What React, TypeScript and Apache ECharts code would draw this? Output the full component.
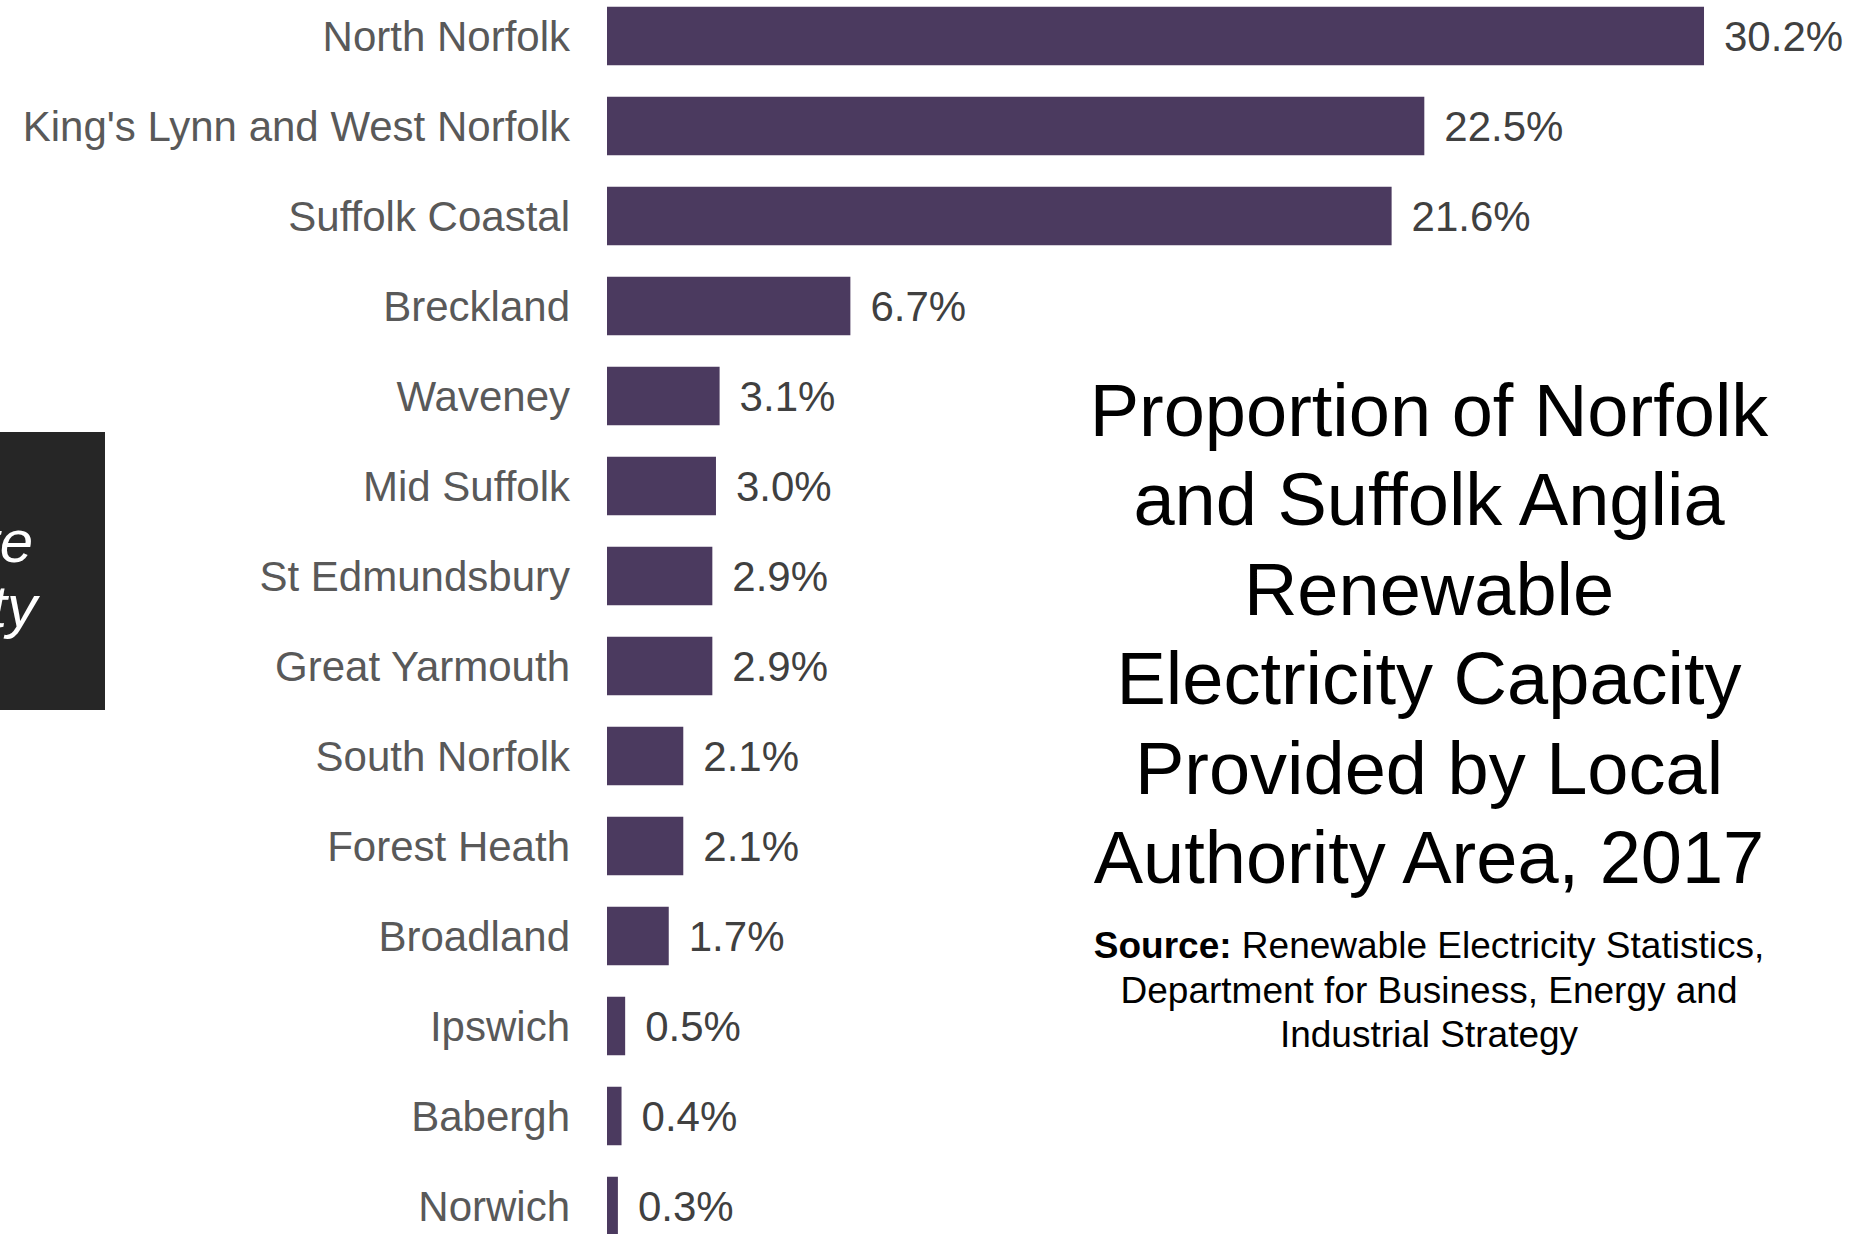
import React, { useEffect, useRef } from "react";
import * as echarts from "echarts";

const categories = [
  "North Norfolk",
  "King's Lynn and West Norfolk",
  "Suffolk Coastal",
  "Breckland",
  "Waveney",
  "Mid Suffolk",
  "St Edmundsbury",
  "Great Yarmouth",
  "South Norfolk",
  "Forest Heath",
  "Broadland",
  "Ipswich",
  "Babergh",
  "Norwich",
];
const values = [30.2, 22.5, 21.6, 6.7, 3.1, 3.0, 2.9, 2.9, 2.1, 2.1, 1.7, 0.5, 0.4, 0.3];

const titleLines = [
  "Proportion of Norfolk",
  "and Suffolk Anglia",
  "Renewable",
  "Electricity Capacity",
  "Provided by Local",
  "Authority Area, 2017",
];
const sourceLabel = "Source:";
const sourceLines = [
  " Renewable Electricity Statistics,",
  "Department for Business, Energy and",
  "Industrial Strategy",
];

const FONT = "'Liberation Sans', Arial, sans-serif";

export default function App() {
  const ref = useRef<HTMLDivElement>(null);
  useEffect(() => {
    document.body.style.margin = "0";
    document.body.style.overflow = "hidden";
    const chart = echarts.init(ref.current!, null, { renderer: "svg" });
    chart.setOption({
      animation: false,
      backgroundColor: "#ffffff",
      textStyle: { fontFamily: FONT },
      grid: {
        left: 607,
        top: -9,
        width: 1453,
        height: 1260,
        containLabel: false,
        outerBoundsMode: "none",
      },
      xAxis: {
        type: "value",
        min: 0,
        max: 40,
        show: false,
        splitLine: { show: false },
      },
      yAxis: {
        type: "category",
        data: categories,
        inverse: true,
        axisLine: { show: false },
        axisTick: { show: false },
        axisLabel: {
          fontSize: 42,
          color: "#595959",
          margin: 37,
          fontFamily: FONT,
        },
      },
      series: [
        {
          type: "bar",
          data: values,
          barWidth: "65%",
          itemStyle: { color: "#4b3a5f" },
          label: {
            show: true,
            position: "right",
            distance: 20,
            fontSize: 42,
            color: "#404040",
            fontFamily: FONT,
            formatter: (p: any) => Number(p.value).toFixed(1) + "%",
          },
        },
      ],
      graphic: [
        {
          type: "rect",
          shape: { x: 0, y: 432, width: 105, height: 278 },
          style: { fill: "#262626" },
        },
        {
          type: "text",
          x: 33,
          y: 541,
          style: {
            text: "Click to navigate",
            fill: "#ffffff",
            font: `italic 60px ${FONT}`,
            align: "right",
            verticalAlign: "middle",
          },
        },
        {
          type: "text",
          x: 37,
          y: 606,
          style: {
            text: "Local Authority",
            fill: "#ffffff",
            font: `italic 60px ${FONT}`,
            align: "right",
            verticalAlign: "middle",
          },
        },
        {
          type: "text",
          x: 1429,
          y: 634,
          style: {
            text: titleLines.join("\n"),
            fill: "#000000",
            fontSize: 74,
            fontFamily: FONT,
            lineHeight: 89.5,
            align: "center",
            verticalAlign: "middle",
          },
        },
        {
          type: "text",
          x: 1429,
          y: 990,
          style: {
            text: "{b|" + sourceLabel + "}" + sourceLines.join("\n"),
            fill: "#000000",
            fontSize: 37,
            fontFamily: FONT,
            lineHeight: 44.5,
            align: "center",
            verticalAlign: "middle",
            rich: {
              b: { fontWeight: "bold", fontSize: 37, fontFamily: FONT, fill: "#000000", lineHeight: 44.5 },
            },
          },
        },
      ],
    });
    return () => chart.dispose();
  }, []);
  return <div ref={ref} style={{ width: 1875, height: 1234 }} />;
}
